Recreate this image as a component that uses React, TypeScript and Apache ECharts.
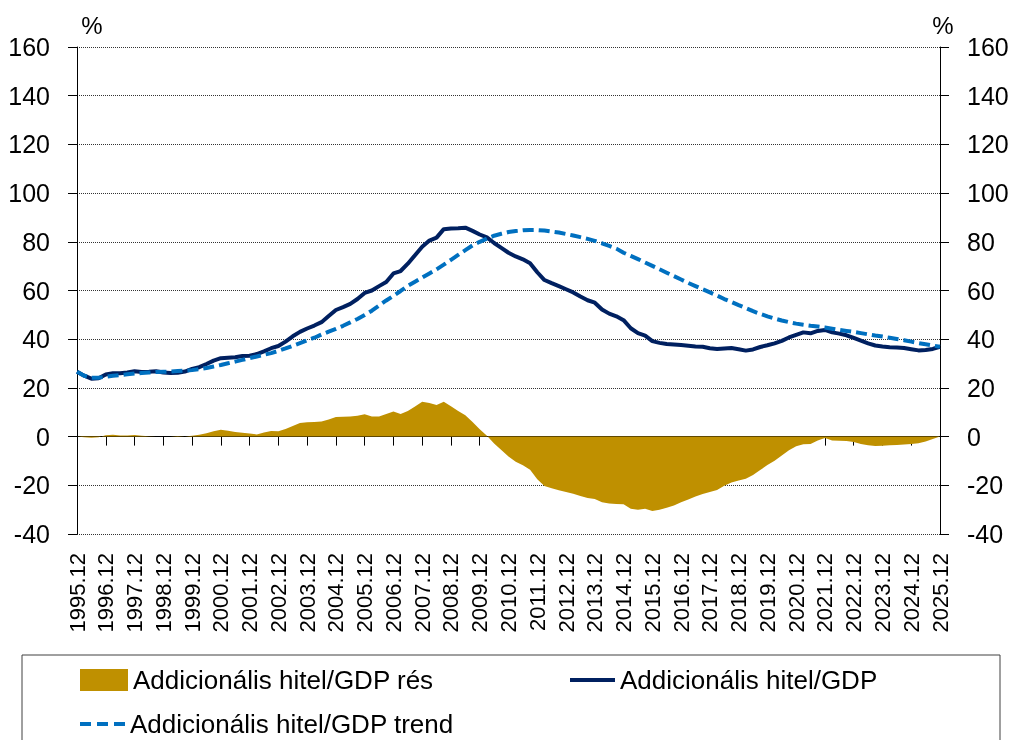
import React, { useEffect, useRef } from "react";
import * as echarts from "echarts";

const FONT = "'Liberation Sans', Arial, sans-serif";

const START_LABEL = "1995.12";
const YEARS = [1996, 1997, 1998, 1999, 2000, 2001, 2002, 2003, 2004, 2005, 2006, 2007, 2008, 2009, 2010, 2011, 2012, 2013, 2014, 2015, 2016, 2017, 2018, 2019, 2020, 2021, 2022, 2023, 2024, 2025];
const MONTHS = ["03", "06", "09", "12"];
const categories: string[] = [START_LABEL];
YEARS.forEach((y) => MONTHS.forEach((m) => categories.push(`${y}.${m}`)));

const Y_TICKS = { min: -40, max: 160, interval: 20 };

const NAME_GAP = "Addicionális hitel/GDP rés";
const NAME_CREDIT = "Addicionális hitel/GDP";
const NAME_TREND = "Addicionális hitel/GDP trend";

const gapValues = [
  0, -0.3, -0.5, -0.3, 0.6, 0.8, 0.5, 0.5, 0.7, 0.4,
  0.1, 0, 0, 0, -0.2, 0, 0.4, 0.8, 1.4, 2.2,
  2.8, 2.4, 1.9, 1.6, 1.3, 0.9, 1.7, 2.3, 2.2, 3.1,
  4.4, 5.6, 5.9, 6, 6.2, 7, 8.1, 8.2, 8.3, 8.6,
  9.2, 8.3, 8.3, 9.3, 10.3, 9.3, 10.5, 12.4, 14.3, 13.8,
  13, 14.3, 12.5, 10.5, 8.8, 6, 3, 0.3, -2.8, -5.5,
  -8.2, -10.3, -11.8, -13.6, -17.5, -20.3, -21.2, -22, -22.8, -23.5,
  -24.4, -25.2, -25.6, -27, -27.5, -27.7, -27.8, -29.6, -30, -29.6,
  -30.6, -30, -29.2, -28.3, -27, -25.8, -24.6, -23.6, -22.8, -21.9,
  -20.2, -18.9, -18, -17.3, -15.8, -13.7, -11.7, -9.9, -7.8, -5.6,
  -4, -3.1, -3, -1.6, -0.6, -1.6, -1.7, -1.8, -2.2, -3,
  -3.6, -3.9, -3.8, -3.6, -3.5, -3.2, -3, -2.7, -2, -1,
  0,
];

const creditValues = [
  26.6, 25, 23.8, 24, 25.5, 26, 26, 26.3, 26.8, 26.5,
  26.6, 26.8, 26.3, 26.1, 26.2, 26.7, 27.8, 28.5, 29.8, 31.2,
  32.2, 32.4, 32.6, 33.1, 33.2, 33.9, 35, 36.3, 37.2, 39,
  41.2, 43, 44.4, 45.6, 47, 49.5, 52, 53.2, 54.5, 56.5,
  59, 60, 61.8, 63.5, 67, 68, 71, 74.5, 78, 80.5,
  81.7, 85.2, 85.5, 85.6, 85.8, 84.5, 83, 81.8, 79.5, 77.5,
  75.5, 74, 72.8, 71.2, 67.5, 64.3, 63, 61.8, 60.5, 59.2,
  57.5, 56, 55, 52.2, 50.5, 49.4, 47.8, 44.5, 42.5, 41.5,
  39.2, 38.5, 38, 37.8, 37.6, 37.3, 37, 36.9, 36.3, 36,
  36.2, 36.4, 35.9, 35.3, 35.8, 36.8, 37.5, 38.3, 39.3, 40.7,
  41.8, 42.8, 42.4, 43.4, 43.8, 42.8, 42.3, 41.6, 40.5, 39.4,
  38.3, 37.4, 37, 36.7, 36.6, 36.4, 35.9, 35.4, 35.6, 36,
  36.9,
];

const trendValues = [
  26.6, 25, 24.2, 24.2, 24.6, 25, 25.3, 25.6, 25.9, 26.1,
  26.3, 26.5, 26.6, 26.7, 26.9, 27.1, 27.3, 27.7, 28.2, 28.8,
  29.4, 30.1, 30.8, 31.5, 32.2, 32.9, 33.6, 34.3, 35.2, 36.2,
  37.3, 38.4, 39.5, 40.6, 41.9, 43.1, 44.2, 45.5, 46.9, 48.3,
  49.9, 51.7, 53.8, 55.9, 57.8, 59.8, 61.9, 63.6, 65.3, 67,
  68.7, 70.6, 72.6, 74.6, 76.6, 78.5, 80, 81.3, 82.5, 83.3,
  84, 84.4, 84.7, 84.8, 84.8, 84.6, 84.2, 83.8, 83.2, 82.6,
  81.9, 81.2, 80.4, 79.4, 78.3, 77.2, 75.5, 74.2, 72.9, 71.5,
  70.1, 68.7, 67.3, 65.9, 64.5, 63.1, 61.8, 60.5, 59.2, 57.9,
  56.5, 55.3, 54, 52.8, 51.5, 50.4, 49.4, 48.5, 47.7, 47,
  46.4, 45.9, 45.5, 45.2, 44.8, 44.3, 43.8, 43.4, 43, 42.5,
  42, 41.5, 41.1, 40.6, 40.1, 39.6, 39, 38.4, 37.9, 37.4,
  36.9,
];

const GOLD = "#BF9000";
const NAVY = "#002060";
const BLUE = "#0070C0";

const ICON_SOLID = "path://M0,0M0,9h45v4h-45zM45,22";
const ICON_DASH = "path://M0,0M0,9h11v4h-11zM17,9h11v4h-11zM34,9h11v4h-11zM45,22";

export default function App() {
  const ref = useRef<HTMLDivElement>(null);

  useEffect(() => {
    if (!ref.current) return;
    const chart = echarts.init(ref.current, undefined, { renderer: "svg" });
    const yAxisBase = {
      type: "value",
      min: Y_TICKS.min,
      max: Y_TICKS.max,
      interval: Y_TICKS.interval,
      axisLine: { show: true, lineStyle: { color: "#000", width: 1 } },
      axisTick: { show: true, length: 9, lineStyle: { color: "#000", width: 1 } },
      axisLabel: { fontSize: 25, margin: 27, color: "#000", fontFamily: FONT },
    };
    const legendText = { fontSize: 26, color: "#000", fontFamily: FONT };
    chart.setOption({
      animation: false,
      textStyle: { fontFamily: FONT },
      grid: { left: 77, right: 72, top: 47, bottom: 206, containLabel: false },
      xAxis: {
        type: "category",
        data: categories,
        boundaryGap: false,
        axisLine: { show: true, onZero: true, lineStyle: { color: "#000", width: 1 } },
        axisTick: { show: true, interval: (i: number) => i % 4 === 0, length: 9, lineStyle: { color: "#000", width: 1 } },
        axisLabel: {
          interval: (i: number) => i % 4 === 0,
          rotate: 90,
          margin: 19,
          fontSize: 22,
          color: "#000",
          fontFamily: FONT,
        },
        splitLine: { show: false },
      },
      yAxis: [
        {
          ...yAxisBase,
          position: "left",
          splitLine: { show: true, lineStyle: { type: [1, 1], color: "#333", width: 1 } },
        },
        { ...yAxisBase, position: "right", splitLine: { show: false } },
      ],
      legend: [
        {
          data: [{ name: NAME_GAP, icon: "rect" }],
          left: 80, top: 667, padding: 0, itemWidth: 48, itemHeight: 22, textStyle: legendText,
        },
        {
          data: [{ name: NAME_CREDIT, icon: ICON_SOLID }],
          left: 570, top: 667, padding: 0, itemWidth: 45, itemHeight: 22, textStyle: legendText,
        },
        {
          data: [{ name: NAME_TREND, icon: ICON_DASH }],
          left: 80, top: 711, padding: 0, itemWidth: 45, itemHeight: 22, textStyle: legendText,
        },
      ],
      graphic: [
        { type: "rect", shape: { x: 22, y: 655, width: 978, height: 120 }, style: { fill: "none", stroke: "#404040", lineWidth: 1 } },
        { type: "text", x: 92, y: 25, style: { text: "%", fontSize: 24, fontFamily: FONT, fill: "#000", align: "center", verticalAlign: "middle" } },
        { type: "text", x: 943, y: 25, style: { text: "%", fontSize: 24, fontFamily: FONT, fill: "#000", align: "center", verticalAlign: "middle" } },
      ],
      series: [
        {
          name: NAME_GAP, type: "line", data: gapValues, symbol: "none",
          lineStyle: { width: 0 }, areaStyle: { color: GOLD, opacity: 1 }, itemStyle: { color: GOLD }, z: 1,
        },
        {
          name: NAME_CREDIT, type: "line", data: creditValues, symbol: "none",
          lineStyle: { width: 4, color: NAVY }, itemStyle: { color: NAVY }, z: 2,
        },
        {
          name: NAME_TREND, type: "line", data: trendValues, symbol: "none",
          lineStyle: { width: 4, color: BLUE, type: [11, 5] }, itemStyle: { color: BLUE }, z: 3,
        },
      ],
    });
    return () => chart.dispose();
  }, []);

  return <div ref={ref} style={{ position: "fixed", left: 0, top: 0, width: 1012, height: 740 }} />;
}
